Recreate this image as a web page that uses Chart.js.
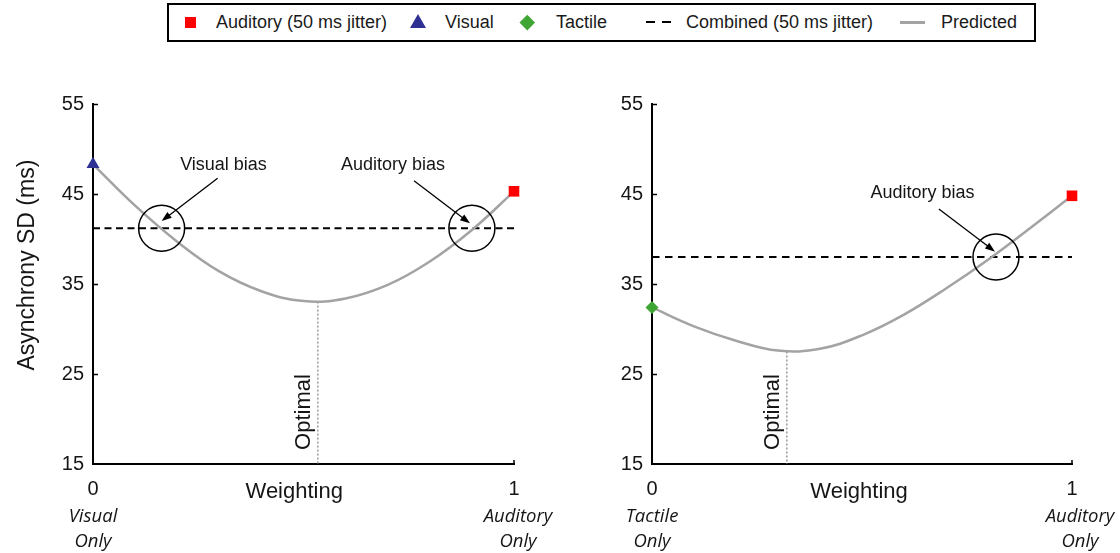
<!DOCTYPE html>
<html><head><meta charset="utf-8">
<script src="https://cdn.jsdelivr.net/npm/chart.js@4.4.1/dist/chart.umd.min.js"></script>
<style>
html,body{margin:0;padding:0;background:#fff;}
#wrap{position:relative;width:1120px;height:553px;overflow:hidden;font-family:"Liberation Sans",Arial,sans-serif;background:#fff;}
canvas.cv{position:absolute;top:0;}
#legend{position:absolute;left:167px;top:3px;width:865px;height:35px;border:2px solid #000;z-index:2;background:#fff;}
.lt{position:absolute;top:3px;height:36px;line-height:38px;font-size:18px;color:#1a1a1a;white-space:nowrap;z-index:3;}
.mk{position:absolute;z-index:3;}
</style>
</head>
<body>
<div id="wrap">
  <canvas id="c1" class="cv" width="560" height="553" style="left:0"></canvas>
  <canvas id="c2" class="cv" width="560" height="553" style="left:560px"></canvas>
  <div id="legend"></div>
  <div class="mk" style="left:185px;top:16.5px;width:11px;height:11px;background:#ff0000"></div>
  <div class="lt" style="left:216px">Auditory (50 ms jitter)</div>
  <div class="mk" style="left:410px;top:14px;width:0;height:0;border-left:8px solid transparent;border-right:8px solid transparent;border-bottom:14px solid #2e3192"></div>
  <div class="lt" style="left:445px">Visual</div>
  <div class="mk" style="left:521.5px;top:16.5px;width:10.5px;height:10.5px;background:#3fa535;transform:rotate(45deg)"></div>
  <div class="lt" style="left:556px">Tactile</div>
  <div class="mk" style="left:646px;top:21px;width:9px;height:2px;background:#000"></div>
  <div class="mk" style="left:662px;top:21px;width:9px;height:2px;background:#000"></div>
  <div class="lt" style="left:686px">Combined (50 ms jitter)</div>
  <div class="mk" style="left:900px;top:20.5px;width:25px;height:3px;background:#a3a3a3"></div>
  <div class="lt" style="left:941px">Predicted</div>
</div>
<script>
// ---------- data ----------
const weights = [0, 0.1, 0.2, 0.3, 0.4, 0.5, 0.6, 0.7, 0.8, 0.9, 1];
const predictedVisualAuditory = [48.3, 43.7, 39.7, 36.4, 34.2, 33.1, 33.4, 34.9, 37.5, 41.0, 45.3];
const predictedTactileAuditory = [32.4, 30.3, 28.7, 27.6, 27.8, 29.3, 31.6, 34.5, 37.7, 41.2, 44.8];
const visualOnlySD = 48.3;
const auditoryOnlySDLeft = 45.3;
const tactileOnlySD = 32.4;
const auditoryOnlySDRight = 44.8;
const combinedSDLeft = 41.2;
const combinedSDRight = 38.0;
const optimalLeft = [0.534, 33.05];
const optimalRight = [0.321, 27.5];
const biasPointsLeft = [[0.163, 41.2], [0.9, 41.2]];
const biasPointsRight = [[0.819, 38.0]];
const yTicks = [15, 25, 35, 45, 55];
const xTicks = [0, 1];
const xTickLabels = ['0', '1'];
const endLabelsLeft = [['Visual', 'Only'], ['Auditory', 'Only']];
const endLabelsRight = [['Tactile', 'Only'], ['Auditory', 'Only']];
const yTitle = 'Asynchrony SD (ms)';
const xTitle = 'Weighting';
const optimalText = 'Optimal';
const annotationsLeft = [
  {text: 'Visual bias', at: [0.31, 48.2], from: [0.296, 46.74], to: [0.163, 42.0]},
  {text: 'Auditory bias', at: [0.7126, 48.2], from: [0.7625, 46.48], to: [0.8955, 41.74]}
];
const annotationsRight = [
  {text: 'Auditory bias', at: [0.644, 45.1], from: [0.683, 43.33], to: [0.8167, 38.59]}
];
// ---------- styling ----------
const FONT = '"Liberation Sans", Arial, sans-serif';
const TXT = '#151515';
const GRAY = '#a3a3a3';

function pts(xs, ys) { return xs.map((x, i) => ({x: x, y: ys[i]})); }

function arrow(ctx, x1, y1, x2, y2) {
  const a = Math.atan2(y2 - y1, x2 - x1);
  const L = 10, W = 3.6;
  ctx.beginPath();
  ctx.moveTo(x1, y1);
  ctx.lineTo(x2 - Math.cos(a) * L * 0.8, y2 - Math.sin(a) * L * 0.8);
  ctx.stroke();
  ctx.beginPath();
  ctx.moveTo(x2, y2);
  ctx.lineTo(x2 - Math.cos(a) * L + Math.sin(a) * W, y2 - Math.sin(a) * L - Math.cos(a) * W);
  ctx.lineTo(x2 - Math.cos(a) * L - Math.sin(a) * W, y2 - Math.sin(a) * L + Math.cos(a) * W);
  ctx.closePath();
  ctx.fill();
}

function overlay(cfg) {
  return {
    id: 'overlay',
    afterDatasetsDraw(chart) {
      const ctx = chart.ctx, xs = chart.scales.x, ys = chart.scales.y, ca = chart.chartArea;
      ctx.save();
      ctx.strokeStyle = '#000'; ctx.lineWidth = 1.5;
      // inward y tick marks
      yTicks.forEach(v => {
        if (v === yTicks[0]) return;
        const y = Math.round(ys.getPixelForValue(v)) + 0.5;
        ctx.beginPath(); ctx.moveTo(ca.left, y); ctx.lineTo(ca.left + 5, y); ctx.stroke();
      });
      // small tick at x = 1
      const xe = xs.getPixelForValue(xTicks[1]);
      ctx.beginPath(); ctx.moveTo(xe, ca.bottom); ctx.lineTo(xe, ca.bottom - 4); ctx.stroke();
      ctx.fillStyle = TXT;
      // y title
      if (cfg.yTitle) {
        ctx.save();
        ctx.translate(28, ys.getPixelForValue(37.1));
        ctx.rotate(-Math.PI / 2);
        ctx.font = '23px ' + FONT; ctx.textAlign = 'center'; ctx.textBaseline = 'middle';
        ctx.fillText(yTitle, 0, 0);
        ctx.restore();
      }
      // x title
      ctx.font = '22px ' + FONT; ctx.textAlign = 'center'; ctx.textBaseline = 'middle';
      ctx.fillText(xTitle, xs.getPixelForValue(cfg.xTitleAt), 492);
      // end labels
      ctx.font = 'italic 18.5px "Open Sans", "Noto Sans", sans-serif';
      cfg.endLabels.forEach((lines, i) => {
        const x = xs.getPixelForValue(xTicks[i]) + cfg.endOffsets[i];
        ctx.fillText(lines[0], x, 517);
        ctx.fillText(lines[1], x, 542);
      });
      // optimal label
      ctx.save();
      ctx.translate(xs.getPixelForValue(cfg.optimal[0]) - 13.5, 412);
      ctx.rotate(-Math.PI / 2);
      ctx.font = '22px ' + FONT; ctx.textAlign = 'center'; ctx.textBaseline = 'middle';
      ctx.fillText(optimalText, 0, 0);
      ctx.restore();
      // annotations
      ctx.font = '18px ' + FONT; ctx.textAlign = 'center'; ctx.textBaseline = 'middle';
      ctx.lineWidth = 1.3; ctx.strokeStyle = '#000'; ctx.fillStyle = TXT;
      cfg.annotations.forEach(a => {
        ctx.fillText(a.text, xs.getPixelForValue(a.at[0]), ys.getPixelForValue(a.at[1]));
        ctx.fillStyle = '#000';
        arrow(ctx, xs.getPixelForValue(a.from[0]), ys.getPixelForValue(a.from[1]),
                   xs.getPixelForValue(a.to[0]), ys.getPixelForValue(a.to[1]));
        ctx.fillStyle = TXT;
      });
      ctx.restore();
    }
  };
}

function makeChart(id, opt) {
  return new Chart(document.getElementById(id), {
    type: 'scatter',
    data: {
      datasets: [
        {label: 'marker2', data: [{x: 1, y: opt.aud}], pointStyle: 'rect', pointRadius: 7.5,
         pointBackgroundColor: '#ff0000', pointBorderWidth: 0, order: 0, clip: false},
        {label: 'marker1', data: [{x: 0, y: opt.firstVal}], pointStyle: opt.firstStyle, pointRadius: opt.firstRadius,
         pointBackgroundColor: opt.firstColor, pointBorderWidth: 0, order: 0, clip: false},
        {label: 'bias', data: opt.bias.map(p => ({x: p[0], y: p[1]})), pointStyle: 'circle', pointRadius: 23,
         pointBackgroundColor: 'rgba(0,0,0,0)', pointBorderColor: '#000', pointBorderWidth: 1.5, order: 1, clip: false},
        {label: 'Predicted', data: pts(weights, opt.pred), showLine: true, borderColor: GRAY, borderWidth: 2.5,
         pointRadius: 0, tension: 0.4, order: 2, clip: false},
        {label: 'Combined', data: [{x: 0, y: opt.comb}, {x: 1, y: opt.comb}], showLine: true, borderColor: '#000',
         borderWidth: 2, borderDash: opt.dash, pointRadius: 0, order: 3, clip: false},
        {label: 'Optimal', data: [{x: opt.optimal[0], y: opt.optimal[1]}, {x: opt.optimal[0], y: yTicks[0]}], showLine: true,
         borderColor: '#999', borderWidth: 1.5, borderDash: [2, 2], pointRadius: 0, order: 4, clip: false}
      ]
    },
    options: {
      responsive: false, animation: false, devicePixelRatio: 1, events: [],
      layout: {padding: {left: 0, right: opt.rightPad, top: 104, bottom: 0}},
      plugins: {legend: {display: false}, tooltip: {enabled: false}},
      scales: {
        x: {type: 'linear', min: 0, max: 1,
            afterBuildTicks: s => { s.ticks = xTicks.map(v => ({value: v})); },
            afterFit: s => { s.height = 89; },
            ticks: {font: {size: 20, family: FONT}, color: TXT, padding: 13, maxRotation: 0,
                    callback: v => xTickLabels[xTicks.indexOf(v)]},
            grid: {display: false, drawTicks: false}, border: {display: true, color: '#000', width: 2}},
        y: {type: 'linear', min: 15, max: 55,
            afterBuildTicks: s => { s.ticks = yTicks.map(v => ({value: v})); },
            afterFit: s => { s.width = opt.yWidth; },
            ticks: {font: {size: 20, family: FONT}, color: TXT, padding: 9},
            grid: {display: false, drawTicks: false}, border: {display: true, color: '#000', width: 2}}
      }
    },
    plugins: [overlay(opt)]
  });
}

makeChart('c1', {
  pred: predictedVisualAuditory, firstVal: visualOnlySD, firstStyle: 'triangle', firstRadius: 7.5, firstColor: '#2e3192',
  aud: auditoryOnlySDLeft, comb: combinedSDLeft, optimal: optimalLeft, bias: biasPointsLeft, dash: [7, 4.5],
  rightPad: 46, yWidth: 93, yTitle: true, xTitleAt: 0.478, endLabels: endLabelsLeft, endOffsets: [0, 4],
  annotations: annotationsLeft
});
makeChart('c2', {
  pred: predictedTactileAuditory, firstVal: tactileOnlySD, firstStyle: 'rectRot', firstRadius: 6.5, firstColor: '#3fa535',
  aud: auditoryOnlySDRight, comb: combinedSDRight, optimal: optimalRight, bias: biasPointsRight, dash: [7.5, 5.5],
  rightPad: 48, yWidth: 92, yTitle: false, xTitleAt: 0.493, endLabels: endLabelsRight, endOffsets: [0, 8],
  annotations: annotationsRight
});
</script>
</body></html>
